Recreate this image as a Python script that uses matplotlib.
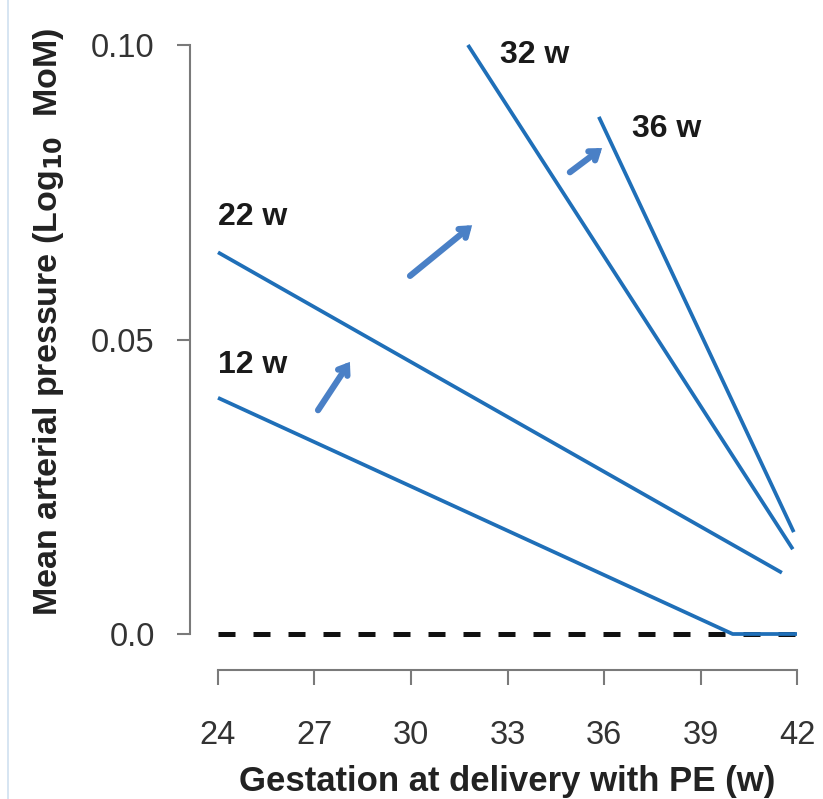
import matplotlib
matplotlib.use("Agg")
import matplotlib.pyplot as plt
from matplotlib.lines import Line2D

# MAP regression lines by gestational age at screening
labels = ["12 w", "22 w", "32 w", "36 w"]
x_12 = [24.0, 40.0, 42.0]
y_12 = [0.0401, 0.0, 0.0]
x_22 = [24.0, 41.53]
y_22 = [0.0648, 0.0104]
x_32 = [31.77, 41.87]
y_32 = [0.100, 0.0144]
x_36 = [35.84, 41.90]
y_36 = [0.0878, 0.0173]

# label anchors (data coords, baseline)
label_x = [24.0, 24.0, 32.77, 36.87]
label_y = [0.0443, 0.0694, 0.0969, 0.0844]

# arrows showing the shift between screening times: (tail, head)
arrows = [
    ((27.11, 0.0380), (28.10, 0.0462)),
    ((29.97, 0.0608), (31.90, 0.0694)),
    ((34.94, 0.0784), (35.94, 0.0825)),
]

xticks = [24, 27, 30, 33, 36, 39, 42]
yticks = [0.0, 0.05, 0.10]
ytick_labels = ["0.0", "0.05", "0.10"]

BLUE = "#1f6fb8"
ARROW = "#4a80c6"
GRAY = "#7a7a7a"

plt.rcParams["font.family"] = ["Liberation Sans", "DejaVu Sans"]

fig = plt.figure(figsize=(8.23, 7.99), dpi=100)
ax = fig.add_axes([218 / 823, 1 - 634 / 799, 579 / 823, 589 / 799])

ax.set_xlim(24, 42)
ax.set_ylim(0, 0.1)

# baseline
ax.plot([24, 42], [0, 0], color="#111111", lw=3.6, linestyle=(0, (3.4, 3.6)),
        clip_on=False, zorder=2)

for xs, ys in [(x_12, y_12), (x_22, y_22), (x_32, y_32), (x_36, y_36)]:
    ax.plot(xs, ys, color=BLUE, lw=2.7, solid_capstyle="butt",
            clip_on=False, zorder=3)

for lab, lx, ly in zip(labels, label_x, label_y):
    ax.text(lx, ly, lab, fontsize=23, fontweight="bold", color="#1a1a1a",
            ha="left", va="baseline")

for (tx, ty), (hx, hy) in arrows:
    ax.annotate("", xy=(hx, hy), xytext=(tx, ty),
                arrowprops=dict(arrowstyle="->,head_length=0.55,head_width=0.4",
                                color=ARROW, lw=4.5, shrinkA=0, shrinkB=0,
                                capstyle="round", joinstyle="miter"))

# R-style detached axes
for s in ["top", "right"]:
    ax.spines[s].set_visible(False)
ax.spines["left"].set_position(("outward", 20))
ax.spines["bottom"].set_position(("outward", 26))
ax.spines["left"].set_bounds(0, 0.1)
ax.spines["bottom"].set_bounds(24, 42)
for s in ["left", "bottom"]:
    ax.spines[s].set_color(GRAY)
    ax.spines[s].set_linewidth(1.5)

ax.set_xticks(xticks)
ax.set_xticklabels([str(t) for t in xticks])
ax.set_yticks(yticks)
ax.set_yticklabels(ytick_labels)
ax.tick_params(axis="x", length=11, width=1.5, color=GRAY, pad=25,
               labelsize=23.5, labelcolor="#333333")
ax.tick_params(axis="y", length=9.5, width=1.5, color=GRAY, pad=16,
               labelsize=23.5, labelcolor="#333333")

ax.set_xlabel("Gestation at delivery with PE (w)", fontsize=25,
              fontweight="bold", color="#222222")
ax.set_ylabel(r"Mean arterial pressure (Log$_{\mathbf{10}}$  MoM)",
              fontsize=24.5, fontweight="bold", color="#222222")
ax.xaxis.set_label_coords(0.5, (634 - 765) / 589)
ax.yaxis.set_label_coords((66 - 218) / 579, (634 - 322) / 589)

# thin left border line
fig.add_artist(Line2D([8 / 823, 8 / 823], [0, 1], color="#cfe0f0", lw=1.2))

fig.savefig("out.png", dpi=100, facecolor="white")
